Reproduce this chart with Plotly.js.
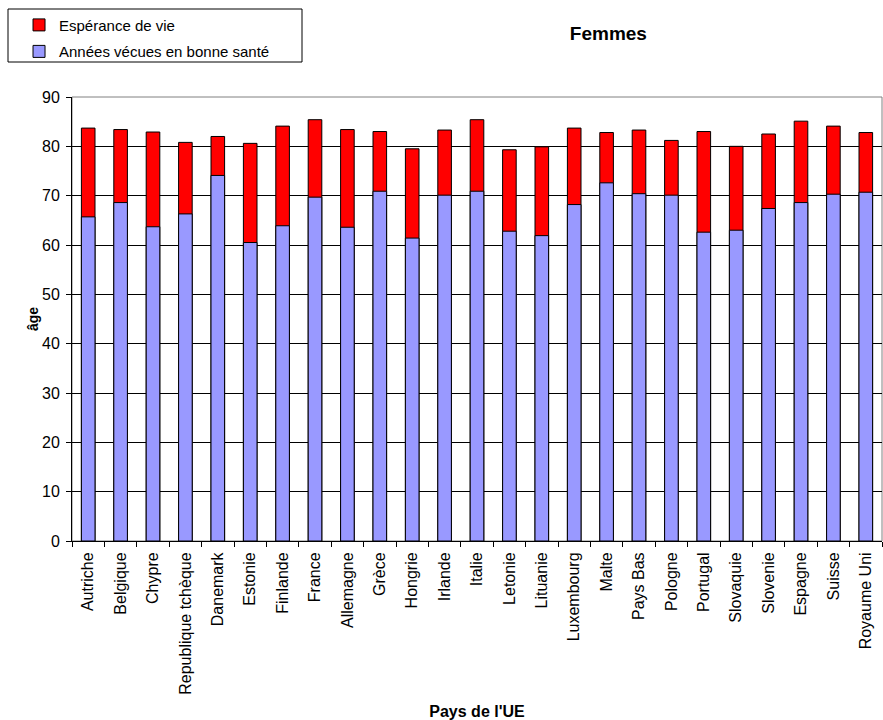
<!DOCTYPE html>
<html>
<head>
<meta charset="utf-8">
<script src="https://cdn.plot.ly/plotly-3.0.1.min.js"></script>
<style>html,body{margin:0;padding:0;background:#fff;}#chart{width:883px;height:720px;}</style>
</head>
<body>
<div id="chart"></div>
<script>
const pays = ["Autriche","Belgique","Chypre","Republique tchèque","Danemark","Estonie","Finlande","France","Allemagne","Grèce","Hongrie","Irlande","Italie","Letonie","Lituanie","Luxembourg","Malte","Pays Bas","Pologne","Portugal","Slovaquie","Slovenie","Espagne","Suisse","Royaume Uni"];
const esperanceVie = [83.7,83.4,82.9,80.8,82.0,80.6,84.1,85.4,83.4,83.0,79.5,83.3,85.4,79.3,79.9,83.7,82.8,83.3,81.2,83.0,80.0,82.5,85.1,84.1,82.8];
const anneesBonneSante = [65.7,68.6,63.7,66.3,74.1,60.5,63.9,69.7,63.6,70.9,61.4,70.1,70.9,62.8,61.9,68.2,72.6,70.4,70.1,62.6,63.0,67.4,68.6,70.3,70.7];
const yTicks = [0,10,20,30,40,50,60,70,80,90];

const FONT = "Liberation Sans, Arial, sans-serif";

const traces = [
  {type:"bar", name:"Espérance de vie", x:pays, y:esperanceVie, legendgroup:"a",
   marker:{color:"#FF0000", line:{color:"#000000", width:1}}, hoverinfo:"x+y"},
  {type:"bar", name:"Années vécues en bonne santé", x:pays, y:anneesBonneSante, legendgroup:"b",
   marker:{color:"#9999FF", line:{color:"#000000", width:1}}, hoverinfo:"x+y"}
];

const layout = {
  width:883, height:720,
  margin:{l:72, r:1, t:97, b:179},
  paper_bgcolor:"#ffffff", plot_bgcolor:"#ffffff",
  font:{family:FONT, size:16, color:"#000000"},
  barmode:"overlay",
  bargap:0.58,
  showlegend:true,
  title:{text:"<b>Femmes</b>", font:{family:FONT, size:19, color:"#000"}, x:0.689, xref:"container", xanchor:"center", y:0.953, yref:"container", yanchor:"middle"},
  legend:{x:-0.0654, xanchor:"left", y:1.199, yanchor:"top", traceorder:"grouped", tracegroupgap:4,
    font:{family:FONT, size:15, color:"#000"}, bgcolor:"rgba(0,0,0,0)", borderwidth:0},
  xaxis:{type:"category", tickangle:-90, ticks:"outside", ticklen:5, tickcolor:"#000", tickson:"boundaries",
    showline:true, linecolor:"#000", linewidth:1, showgrid:false, automargin:false, ticklabelstandoff:4,
    tickfont:{family:FONT, size:16, color:"#000"},
    title:{text:"<b>Pays de l'UE</b>", font:{family:FONT, size:16, color:"#000"}, standoff:13}},
  yaxis:{range:[0,90], tickvals:yTicks, ticktext:yTicks.map(String), ticks:"outside", ticklen:5, tickcolor:"#000",
    showline:true, linecolor:"#000", linewidth:1, showgrid:true, gridcolor:"#000", gridwidth:1, zeroline:false, automargin:false,
    ticklabelstandoff:3,
    tickfont:{family:FONT, size:16, color:"#000"},
    title:{text:"<b>âge</b>", font:{family:FONT, size:14, color:"#000"}, standoff:0}},
  shapes:[
    {type:"rect", xref:"paper", yref:"paper", x0:0, x1:1, y0:0, y1:1, line:{color:"#808080", width:1}, layer:"below"},
    {type:"rect", xref:"paper", yref:"paper", x0:(8-72)/810, x1:(302-72)/810, y0:(541-9)/444, y1:(541-62)/444, line:{color:"#000", width:1}, fillcolor:"rgba(0,0,0,0)"}
  ]
};

Plotly.newPlot("chart", traces, layout, {displayModeBar:false, staticPlot:true});
</script>
</body>
</html>
